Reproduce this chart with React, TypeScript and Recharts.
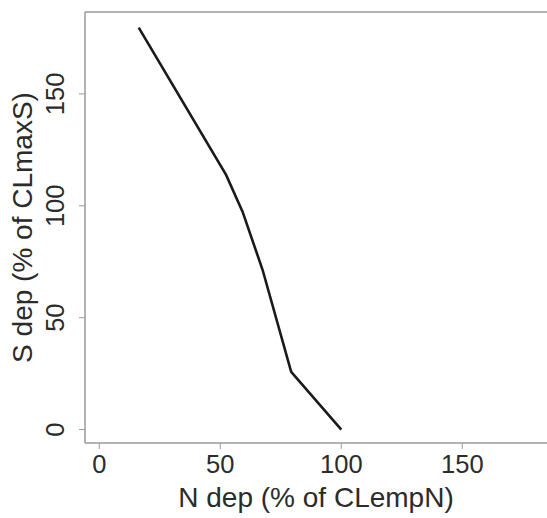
import { LineChart, Line, XAxis, YAxis, ReferenceLine } from 'recharts';

// N deposition (% of CLempN) vs S deposition (% of CLmaxS)
const nDep = [16.3, 52.4, 59.2, 67.5, 79.3, 100];
const sDep = [179.6, 113.8, 97.4, 71.3, 25.8, 0];
const xTicks = [0, 50, 100, 150];
const yTicks = [0, 50, 100, 150];

const X_MIN = -5.9;
const X_MAX = 185;
const Y_MIN = -6;
const Y_MAX = 186.6;

const data = nDep.map((n, i) => ({ n, s: sDep[i] }));

const FONT = '"Liberation Sans", Arial, sans-serif';
const FRAME = '#9a9a9a';

const YTick = ({ x, y, payload }: any) => (
  <text
    x={x - 13}
    y={y}
    transform={`rotate(-90, ${x - 13}, ${y})`}
    textAnchor="middle"
    fontSize={25.5}
    fontFamily={FONT}
    fill="#2b2b2b"
  >
    {payload.value}
  </text>
);

const XTitle = ({ viewBox }: any) => (
  <text
    x={viewBox.x + viewBox.width / 2}
    y={viewBox.y + 63.5}
    textAnchor="middle"
    fontSize={28}
    fontFamily={FONT}
    fill="#2b2b2b"
  >
    N dep (% of CLempN)
  </text>
);

const YTitle = ({ viewBox }: any) => {
  const cx = viewBox.x + 32;
  const cy = viewBox.y + viewBox.height / 2;
  return (
    <text
      x={cx}
      y={cy}
      transform={`rotate(-90, ${cx}, ${cy})`}
      textAnchor="middle"
      fontSize={28}
      fontFamily={FONT}
      fill="#2b2b2b"
    >
      S dep (% of CLmaxS)
    </text>
  );
};

export default function App() {
  return (
    <div style={{ position: 'absolute', left: 0, top: 0, background: '#fff' }}>
      <LineChart width={547} height={518} data={data} margin={{ top: 12, right: 0, bottom: 0, left: 0 }}>
        <XAxis
          dataKey="n"
          type="number"
          domain={[X_MIN, X_MAX]}
          ticks={xTicks}
          allowDataOverflow
          height={75}
          tickSize={6}
          tickMargin={6}
          axisLine={{ stroke: FRAME, strokeWidth: 1.5 }}
          tickLine={{ stroke: FRAME }}
          tick={{ fontSize: 25.5, fontFamily: FONT, fill: '#2b2b2b' }}
          label={{ content: XTitle }}
        />
        <YAxis
          dataKey="s"
          type="number"
          domain={[Y_MIN, Y_MAX]}
          ticks={yTicks}
          allowDataOverflow
          width={85}
          tickSize={6}
          tickMargin={2}
          axisLine={{ stroke: FRAME, strokeWidth: 1.5 }}
          tickLine={{ stroke: FRAME }}
          tick={<YTick />}
          label={{ content: YTitle }}
        />
        <ReferenceLine y={Y_MAX} stroke={FRAME} strokeWidth={1.5} />
        <Line
          dataKey="s"
          type="linear"
          stroke="#1a1a1a"
          strokeWidth={2.6}
          dot={false}
          isAnimationActive={false}
        />
      </LineChart>
    </div>
  );
}
